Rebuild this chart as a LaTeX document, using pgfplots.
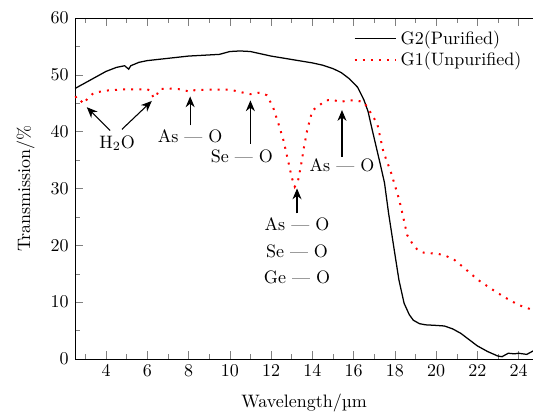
\documentclass[border=0pt]{standalone}
\usepackage{pgfplots}
\pgfplotsset{compat=1.18}
\usetikzlibrary{arrows.meta}
\begin{document}
\begin{tikzpicture}
\begin{axis}[
  scale only axis,
  width=254.4pt, height=189.4pt,
  xmin=2.5, xmax=24.7, ymin=0, ymax=60,
  axis x line=box, axis y line*=left,
  xtick={4,6,...,24}, minor xtick={3,5,...,23},
  ytick={0,10,...,60}, minor ytick={5,15,...,55},
  tick align=inside,
  xtick pos=both,
  xlabel={Wavelength/\symbol{"00B5}m},
  ylabel={Transmission/\%},
  xlabel style={yshift=-2.5pt},
  ylabel style={yshift=2pt},
  legend style={draw=none, fill=none, at={(0.995,0.985)}, anchor=north east, row sep=-1pt},
  legend cell align=left,
  legend image code/.code={\draw[#1] (0pt,0pt) -- (23pt,0pt);},
  clip=false,
]
\addplot[black, line width=0.7pt] coordinates {
(2.5,47.6) (3.0,48.6) (3.5,49.6) (4.0,50.6) (4.5,51.3) (4.9,51.6) (5.0,51.3) (5.1,51.0) (5.2,51.6)
(5.6,52.2) (6.0,52.5) (7.0,52.9) (8.0,53.3) (9.0,53.5) (9.5,53.6) (10.0,54.1) (10.5,54.2)
(11.0,54.1) (11.5,53.7) (12.0,53.3) (12.5,53.0) (13.0,52.7) (13.5,52.4) (14.0,52.1) (14.5,51.7)
(15.0,51.1) (15.4,50.4) (15.8,49.3) (16.2,47.8) (16.5,45.6) (16.7,43.6) (16.9,40.4) (17.1,37.3)
(17.3,34.2) (17.5,31.0) (17.7,25.6) (17.95,19.7) (18.2,13.9) (18.45,9.8) (18.7,7.8) (18.9,6.8)
(19.2,6.2) (19.5,6.0) (20.0,5.9) (20.4,5.8) (20.8,5.3) (21.2,4.5) (21.6,3.4) (22.0,2.3) (22.5,1.3)
(23.0,0.5) (23.2,0.4) (23.5,1.0) (23.8,0.9) (24.0,1.0) (24.4,0.8) (24.7,1.4)
};
\addlegendentry{G2(Purified)}
\addplot[red, line width=1.1pt, dash pattern=on 1.1pt off 3.4pt] coordinates {
(2.5,46.0) (2.6,46.2) (2.75,45.6) (2.9,44.9) (3.1,45.8) (3.4,46.8) (3.8,47.1) (4.2,47.3)
(5.0,47.45) (6.0,47.45) (6.15,47.2) (6.3,46.0) (6.4,46.0) (6.6,47.5) (7.0,47.6) (7.5,47.5)
(8.0,47.1) (8.1,47.0) (8.3,47.3) (9.0,47.4) (10.0,47.4) (10.6,46.9) (11.0,46.6) (11.5,46.9)
(11.8,46.4) (12.1,44.3) (12.36,41.4) (12.6,38.5) (12.85,34.5) (13.0,32.0) (13.15,30.3) (13.3,31.2)
(13.45,34.0) (13.6,37.3) (13.75,40.2) (14.0,43.7) (14.4,44.8) (14.65,45.5) (15.0,45.6) (15.36,45.2)
(15.7,45.5) (16.1,45.5) (16.5,45.2) (16.75,43.8) (17.15,41.4) (17.45,36.4) (17.8,33.0) (18.0,30.6)
(18.2,28.2) (18.37,25.6) (18.6,21.8) (18.85,20.3) (19.1,19.2) (19.4,18.7) (20.1,18.5) (20.5,18.1)
(20.9,17.4) (21.4,15.9) (22.0,14.0) (22.65,12.4) (23.3,10.9) (24.0,9.5) (24.7,8.6)
};
\addlegendentry{G1(Unpurified)}
% annotations
\node at (axis cs:4.54,38.0) {H$_2$O};
\draw[-{Stealth[length=6pt,width=5pt]}, line width=0.6pt] (axis cs:4.2,40.2) -- (axis cs:3.07,44.3);
\draw[-{Stealth[length=6pt,width=5pt]}, line width=0.6pt] (axis cs:4.77,40.4) -- (axis cs:6.22,45.4);
\node at (axis cs:8.08,39.2) {As --- O};
\draw[-{Stealth[length=6pt,width=5pt]}, line width=0.6pt] (axis cs:8.08,41.1) -- (axis cs:8.08,46.2);
\node at (axis cs:10.59,35.7) {Se --- O};
\draw[-{Stealth[length=6pt,width=5pt]}, line width=0.6pt] (axis cs:11.0,37.9) -- (axis cs:11.0,45.5);
\node at (axis cs:15.44,34.1) {As --- O};
\draw[-{Stealth[length=6pt,width=5pt]}, line width=0.6pt] (axis cs:15.44,35.6) -- (axis cs:15.44,43.8);
\node at (axis cs:13.26,23.7) {As --- O};
\node at (axis cs:13.26,19.0) {Se --- O};
\node at (axis cs:13.26,14.4) {Ge --- O};
\draw[-{Stealth[length=6pt,width=5pt]}, line width=0.6pt] (axis cs:13.26,25.6) -- (axis cs:13.26,30.0);
\end{axis}
\pgfresetboundingbox
\path ([xshift=-41.7pt,yshift=-30pt]current axis.south west) rectangle ([yshift=10pt]current axis.north east);
\end{tikzpicture}
\end{document}
